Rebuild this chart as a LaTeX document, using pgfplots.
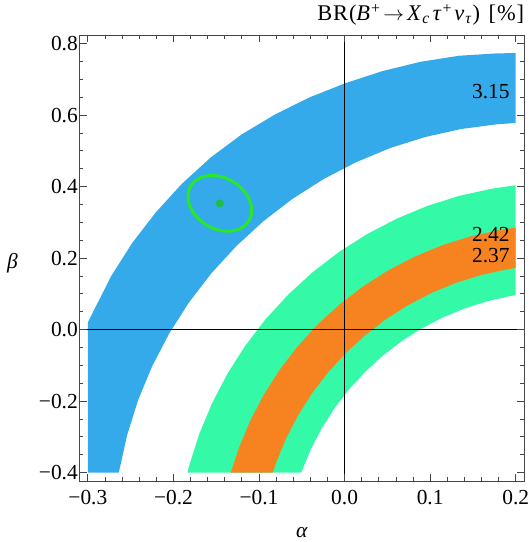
\documentclass[border=0pt]{standalone}
\usepackage{fontspec}
\setmainfont{Liberation Serif}
\usepackage{pgfplots}
\pgfplotsset{compat=1.18}

\definecolor{bandblue}{RGB}{52,170,235}
\definecolor{bandgreen}{RGB}{52,250,168}
\definecolor{bandorange}{RGB}{246,131,32}
\definecolor{ellgreen}{RGB}{40,232,40}
\definecolor{dotgreen}{RGB}{30,190,70}
\definecolor{framegray}{RGB}{70,70,70}

\newcommand{\lbl}{\fontsize{21.5}{25}\selectfont}
\newcommand{\ttl}{\fontsize{22.5}{26}\selectfont\addfontfeature{LetterSpace=4}}

\begin{document}
\begin{tikzpicture}
\begin{axis}[
  scale only axis, width=445bp, height=446.2bp,
  xmin=-0.31, xmax=0.21, ymin=-0.424, ymax=0.824,
  axis on top,
  xtick={-0.3,-0.2,-0.1,0,0.1,0.2},
  xticklabels={−0.3,−0.2,−0.1,0.0,0.1,0.2},
  ytick={-0.4,-0.2,0,0.2,0.4,0.6,0.8},
  yticklabels={−0.4,−0.2,0.0,0.2,0.4,0.6,0.8},
  minor x tick num=4, minor y tick num=3,
  major tick length=7.5bp, minor tick length=4bp,
  tick style={framegray, line width=0.8bp},
  axis line style={framegray, line width=0.9bp},
  tick label style={font=\lbl, black},
  xticklabel style={yshift=-6bp},
  yticklabel style={xshift=2bp},
  extra x ticks={0}, extra y ticks={0},
  extra x tick labels={}, extra y tick labels={},
  extra x tick style={grid=major},
  extra y tick style={grid=major},
  major grid style={black, line width=0.9bp},
  xlabel={\textit{α}}, ylabel={\textit{β}},
  label style={font=\lbl},
  xlabel style={at={(axis description cs:0.5,0)}, anchor=base, yshift=-56.3bp},
  ylabel style={at={(axis description cs:-0.150,0.489)}, anchor=center, rotate=-90, inner sep=0pt},
  title={BR(\textit{B}\textsuperscript{+}\hspace{3bp}$\rightarrow$\hspace{3bp}\textit{X}\textsubscript{\textit{c}}\hspace{2.5bp}\textit{τ}\textsuperscript{+}\hspace{2.5bp}\textit{ν}\textsubscript{\textit{τ}})\hspace{0.1em} [\%]},
  title style={font=\ttl, at={(axis description cs:1,1)}, anchor=base east, yshift=8.5bp, inner sep=0pt},
]
% blue band (3.15)
\addplot[fill=bandblue, draw=none] coordinates {
(-0.3,-0.4) (-0.3,0.0201) (-0.2729,0.1491) (-0.2485,0.2411) (-0.2207,0.3276)
(-0.1900,0.4081) (-0.1563,0.4817) (-0.1202,0.5460) (-0.0818,0.6010) (-0.0414,0.6490)
(0.0007,0.6890) (0.0442,0.7230) (0.0887,0.7490) (0.1338,0.7660) (0.1793,0.7728)
(0.2,0.7732) (0.2,0.5779) (0.1790,0.5745) (0.1363,0.5611) (0.0944,0.5387)
(0.0534,0.5080) (0.0137,0.4685) (-0.0245,0.4210) (-0.0609,0.3656) (-0.0950,0.3029)
(-0.1266,0.2333) (-0.1557,0.1575) (-0.1819,0.0758) (-0.2050,-0.0112) (-0.2249,-0.1027)
(-0.2414,-0.1978) (-0.2542,-0.2959) (-0.2638,-0.4)
} -- cycle;
% green band (2.42)
\addplot[fill=bandgreen, draw=none] coordinates {
(-0.1836,-0.4) (-0.1817,-0.3815) (-0.1700,-0.2929) (-0.1550,-0.2067) (-0.1370,-0.1239)
(-0.1161,-0.0453) (-0.0924,0.0288) (-0.0661,0.0973) (-0.0375,0.1603) (-0.0065,0.2171)
(0.0263,0.2671) (0.0609,0.3102) (0.0968,0.3460) (0.1339,0.3740) (0.1720,0.3941)
(0.2,0.4038) (0.2,0.0962) (0.1940,0.0940) (0.1668,0.0794) (0.1403,0.0593)
(0.1146,0.0338) (0.0900,0.0031) (0.0665,-0.0327) (0.0444,-0.0733) (0.0239,-0.1183)
(0.0051,-0.1673) (-0.0118,-0.2201) (-0.0268,-0.2764) (-0.0396,-0.3354) (-0.0502,-0.3969)
(-0.0507,-0.4)
} -- cycle;
% orange band (2.37)
\addplot[fill=bandorange, draw=none] coordinates {
(-0.1329,-0.4) (-0.1238,-0.3329) (-0.1105,-0.2562) (-0.0945,-0.1827) (-0.0759,-0.1127)
(-0.0548,-0.0467) (-0.0314,0.0143) (-0.0060,0.0702) (0.0216,0.1208) (0.0508,0.1653)
(0.0815,0.2036) (0.1136,0.2355) (0.1466,0.2604) (0.1805,0.2783) (0.2,0.2855)
(0.2,0.1726) (0.1886,0.1681) (0.1588,0.1524) (0.1296,0.1303) (0.1013,0.1024)
(0.0742,0.0685) (0.0484,0.0294) (0.0242,-0.0154) (0.0016,-0.0649) (-0.0190,-0.1189)
(-0.0377,-0.1768) (-0.0541,-0.2386) (-0.0682,-0.3035) (-0.0799,-0.3712) (-0.0840,-0.4)
} -- cycle;
% ellipse and best-fit point
\addplot[ellgreen, line width=3bp] coordinates {
(-0.1117,0.3042) (-0.1089,0.3217) (-0.1086,0.3413) (-0.1109,0.3617) (-0.1155,0.3816)
(-0.1222,0.3995) (-0.1305,0.4142) (-0.1399,0.4248) (-0.1496,0.4304) (-0.1591,0.4308)
(-0.1677,0.4259) (-0.1748,0.4160) (-0.1799,0.4018) (-0.1827,0.3843) (-0.1830,0.3647)
(-0.1807,0.3443) (-0.1761,0.3244) (-0.1694,0.3065) (-0.1611,0.2918) (-0.1518,0.2813)
(-0.1420,0.2756) (-0.1325,0.2752) (-0.1239,0.2801) (-0.1168,0.2900)
} -- cycle;
\addplot[only marks, mark=*, mark size=3.8pt, mark options={draw=dotgreen, fill=dotgreen}]
  coordinates {(-0.1458,0.353)};
\node[anchor=base east, font=\lbl, inner sep=0pt] at (axis cs:0.193,0.6467) {3.15};
\node[anchor=base east, font=\lbl, inner sep=0pt] at (axis cs:0.193,0.2456) {2.42};
\node[anchor=base east, font=\lbl, inner sep=0pt] at (axis cs:0.193,0.188) {2.37};
\end{axis}
\pgfresetboundingbox
\path[use as bounding box] ([shift={(-79.3bp,-60.8bp)}]current axis.south west)
  rectangle ([shift={(6.7bp,35bp)}]current axis.north east);
\end{tikzpicture}
\end{document}
